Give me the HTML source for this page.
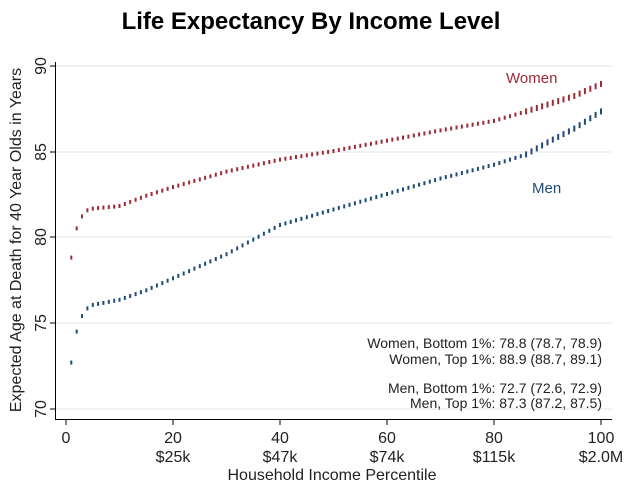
<!DOCTYPE html>
<html><head><meta charset="utf-8"><style>
html,body{margin:0;padding:0;background:#fff;}
svg{display:block;font-family:"Liberation Sans",Arial,sans-serif;}
</style></head><body>
<svg id="c" width="628" height="494" viewBox="0 0 628 494" xmlns="http://www.w3.org/2000/svg">
<rect width="628" height="494" fill="#fff"/>
<text x="311" y="29" text-anchor="middle" font-size="24" font-weight="bold" fill="#000">Life Expectancy By Income Level</text>
<g stroke="#e6ebef" stroke-width="1.3">
<line x1="56" x2="612" y1="66" y2="66"/>
<line x1="56" x2="612" y1="152" y2="152"/>
<line x1="56" x2="612" y1="237" y2="237"/>
<line x1="56" x2="612" y1="323" y2="323"/>
<line x1="56" x2="612" y1="409" y2="409"/>
</g>
<g stroke="#000" stroke-width="1">
<line x1="55.5" x2="55.5" y1="62" y2="419"/>
<line x1="55" x2="612" y1="419.5" y2="419.5"/>
<line x1="50" x2="55" y1="66" y2="66"/><line x1="50" x2="55" y1="152" y2="152"/>
<line x1="50" x2="55" y1="237" y2="237"/><line x1="50" x2="55" y1="323" y2="323"/>
<line x1="50" x2="55" y1="409" y2="409"/>
<line x1="66" x2="66" y1="420" y2="425"/><line x1="173" x2="173" y1="420" y2="425"/>
<line x1="280" x2="280" y1="420" y2="425"/><line x1="387" x2="387" y1="420" y2="425"/>
<line x1="494" x2="494" y1="420" y2="425"/><line x1="601" x2="601" y1="420" y2="425"/>
</g>
<g font-size="16" fill="#222" text-anchor="middle">
<text transform="translate(46,66) rotate(-90)">90</text>
<text transform="translate(46,152) rotate(-90)">85</text>
<text transform="translate(46,237) rotate(-90)">80</text>
<text transform="translate(46,323) rotate(-90)">75</text>
<text transform="translate(46,409) rotate(-90)">70</text>
<text x="66" y="443">0</text><text x="173" y="443">20</text><text x="280" y="443">40</text>
<text x="387" y="443">60</text><text x="494" y="443">80</text><text x="601" y="443">100</text>
<text x="173" y="462">$25k</text><text x="280" y="462">$47k</text>
<text x="387" y="462">$74k</text><text x="494" y="462">$115k</text><text x="601" y="462">$2.0M</text>
<text x="332" y="480">Household Income Percentile</text>
<text transform="translate(21,240) rotate(-90)">Expected Age at Death for 40 Year Olds in Years</text>
</g>
<text x="506" y="83" font-size="15" fill="#9c2a35">Women</text>
<text x="532" y="193" font-size="15" fill="#1f4a78">Men</text>
<g font-size="14" fill="#222" text-anchor="end">
<text x="602" y="348">Women, Bottom 1%: 78.8 (78.7, 78.9)</text>
<text x="602" y="364">Women, Top 1%: 88.9 (88.7, 89.1)</text>
<text x="602" y="393">Men, Bottom 1%: 72.7 (72.6, 72.9)</text>
<text x="602" y="408">Men, Top 1%: 87.3 (87.2, 87.5)</text>
</g>
<g id="pts"></g>
</svg>
<script>
var W=[[1,78.8],[2,80.5],[3,81.2],[4,81.55],[5,81.65],[10,81.8],[15,82.4],[20,82.9],[30,83.8],[40,84.5],[50,85.0],[60,85.6],[70,86.2],[80,86.75],[86,87.3],[90,87.7],[95,88.2],[100,88.9]];
var M=[[1,72.7],[2,74.5],[3,75.4],[4,75.85],[5,76.05],[10,76.35],[15,76.9],[20,77.6],[30,79.0],[40,80.7],[50,81.6],[60,82.5],[70,83.4],[80,84.2],[86,84.8],[90,85.5],[95,86.3],[100,87.3]];
function interp(a,p){for(var i=0;i<a.length-1;i++){if(p>=a[i][0]&&p<=a[i+1][0]){var t=(p-a[i][0])/(a[i+1][0]-a[i][0]);return a[i][1]+t*(a[i+1][1]-a[i][1]);}}return a[a.length-1][1];}
var g=document.getElementById('pts'),s='';
function yv(v){return 409-(v-70)*17.2;}
for(var p=1;p<=100;p++){
 var x=66+p*5.35;
 var w=interp(W,p),m=interp(M,p);
 var h=4+(p>85?2:0);
 s+='<rect x="'+(x-1).toFixed(1)+'" y="'+(yv(w)-h/2).toFixed(1)+'" width="2" height="'+h+'" fill="#9c2a35"/>';
 s+='<rect x="'+(x-1).toFixed(1)+'" y="'+(yv(m)-h/2).toFixed(1)+'" width="2" height="'+h+'" fill="#1f4a78"/>';
}
g.innerHTML=s;
</script>
</body></html>
